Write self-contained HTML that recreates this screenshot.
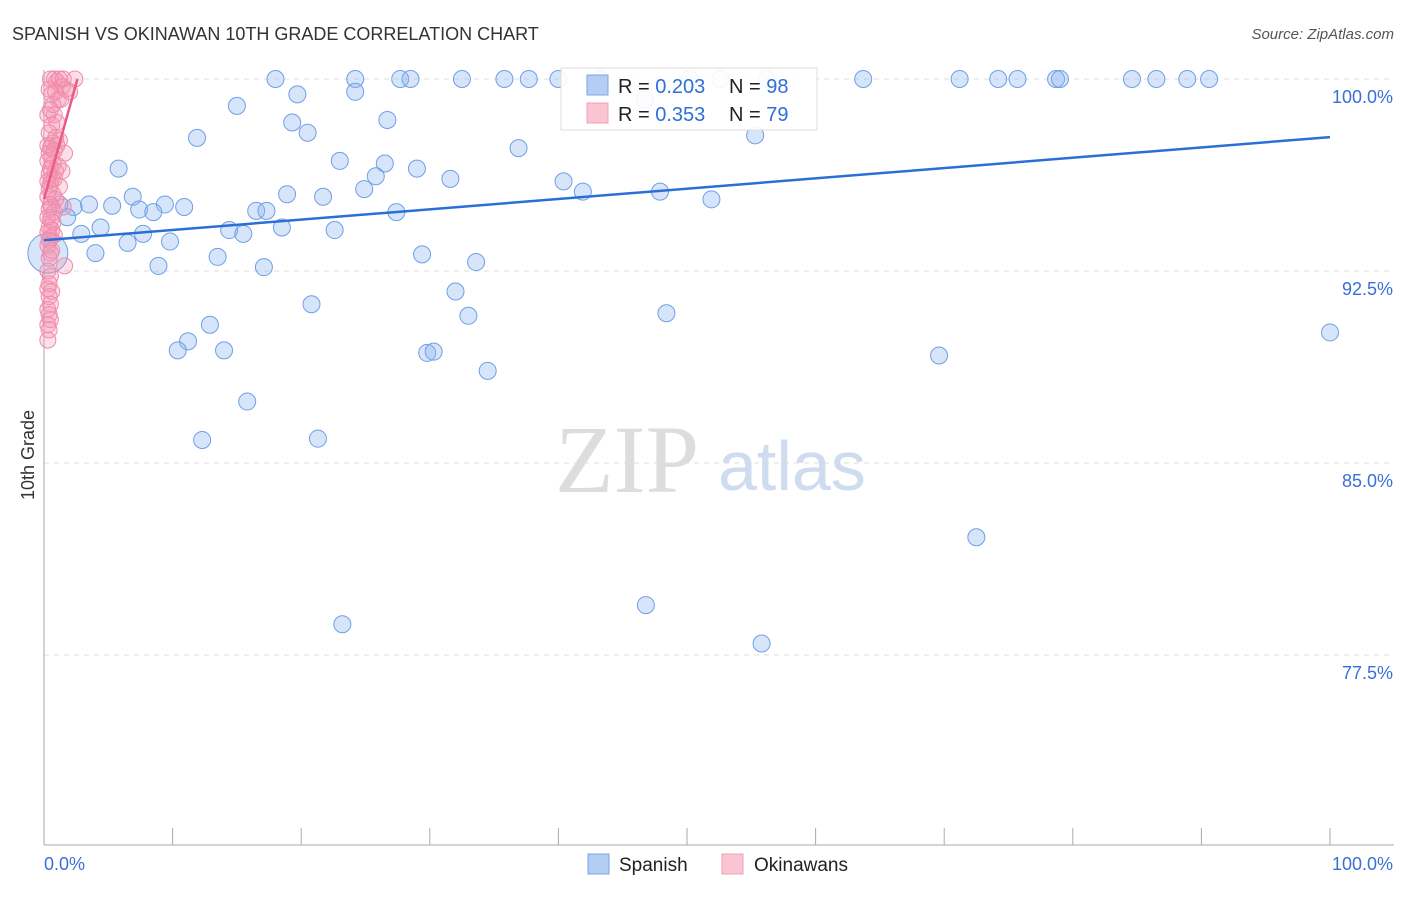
<!DOCTYPE html>
<html><head><meta charset="utf-8"><style>
body{margin:0;background:#fff;font-family:"Liberation Sans",sans-serif}
#wrap{position:relative;width:1406px;height:892px}
</style></head><body><div id="wrap">
<svg id="svg" width="1406" height="892" xmlns="http://www.w3.org/2000/svg">
<text x="12" y="40" font-size="18" fill="#333">SPANISH VS OKINAWAN 10TH GRADE CORRELATION CHART</text>
<text x="1394" y="39" font-size="15" fill="#555" text-anchor="end" font-style="italic">Source: ZipAtlas.com</text>
<text x="34" y="455" font-size="18" fill="#333" transform="rotate(-90 34 455)" text-anchor="middle">10th Grade</text>
<text x="555" y="492" font-size="96" fill="#ddd" font-family="Liberation Serif,serif">ZIP</text>
<text x="718" y="490" font-size="70" fill="#cfdcf0">atlas</text>
<g id="grid"></g><g id="pts"></g><g id="lines"></g>
</svg></div>
<script>
const yTicks=[100,92.5,85,77.5];
const yTickLabels=["100.0%","92.5%","85.0%","77.5%"];
const spanishX=[18,24.2,27.7,28.5,32.5,35.8,37.7,40,43.2,50.2,52.6,56.2,63.7,71.2,74.2,75.7,78.7,79,84.6,86.5,88.9,90.6,15,19.7,24.2,46.7,11.9,19.3,20.5,26.7,36.9,55.3,5.8,23,26.5,29,25.8,31.6,40.4,24.9,41.9,47.9,18.9,21.7,6.9,9.4,10.9,3.5,5.3,2.3,7.4,8.5,1.2,1.8,16.5,17.3,27.4,51.9,4.4,2.9,7.7,14.4,15.5,18.5,22.6,6.5,9.8,4,8.9,13.5,17.1,29.4,33.6,32,20.8,33,48.4,12.9,11.2,10.4,14,29.8,30.3,34.5,69.6,100,15.8,12.3,21.3,72.5,23.2,46.8,55.8,0.3];
const spanishY=[100,100,100,100,100,100,100,100,100,100,100,100,100,100,100,100,100,100,100,100,100,100,98.95,99.4,99.5,99.2,97.7,98.3,97.9,98.4,97.3,97.8,96.5,96.8,96.7,96.5,96.2,96.1,96,95.7,95.6,95.6,95.5,95.4,95.4,95.1,95,95.1,95.05,95,94.9,94.8,95.1,94.6,94.85,94.85,94.8,95.3,94.2,93.95,93.95,94.1,93.95,94.2,94.1,93.6,93.65,93.2,92.7,93.05,92.65,93.15,92.85,91.7,91.2,90.75,90.85,90.4,89.75,89.4,89.4,89.3,89.35,88.6,89.2,90.1,87.4,85.9,85.95,82.1,78.7,79.45,77.95,93.2];
const okiX=[0.5,0.8,1,1.2,1.4,1.5,1.7,2,2.4,0.4,0.6,0.9,1.1,0.7,1.3,0.5,0.3,0.8,1,0.6,0.4,0.9,1.2,0.7,0.3,0.5,1,0.4,0.6,0.8,1.6,0.3,0.7,1.1,0.5,0.9,0.4,1.4,0.6,0.3,0.8,0.5,1.2,0.4,0.7,0.3,0.9,0.5,0.6,0.4,0.8,0.3,0.5,0.7,1.5,0.4,0.6,0.3,0.8,0.5,0.4,0.3,0.6,0.5,0.4,1.6,0.3,0.5,0.4,0.3,0.6,0.4,0.5,0.3,0.4,0.5,0.3,0.4,0.3];
const okiY=[100,100,99.9,100,99.7,100,99.6,99.5,100,99.6,99.4,99.5,99.2,99,99.2,98.8,98.6,98.6,98.3,98.2,97.9,97.7,97.6,97.5,97.4,97.3,97.4,97.1,97,97.2,97.1,96.8,96.7,96.6,96.5,96.4,96.3,96.4,96.1,96,96.1,95.9,95.8,95.7,95.5,95.4,95.3,95.1,95,94.9,94.8,94.6,94.5,94.4,95,94.2,94.1,94,93.9,93.8,93.7,93.5,93.3,93.2,93,92.7,92.5,92.3,92,91.8,91.7,91.5,91.2,91,90.8,90.6,90.4,90.2,89.8];
const spanishTrend=[93.7,97.73];
const okiTrend=[95.3,100,2.6];
const NS="http://www.w3.org/2000/svg";
const xs=v=>44+v*12.86, ys=v=>79+(100-v)*25.6;
function mk(t,a,p){const e=document.createElementNS(NS,t);for(const k in a)e.setAttribute(k,a[k]);p.appendChild(e);return e;}
const grid=document.getElementById('grid'),pts=document.getElementById('pts'),lines=document.getElementById('lines'),svg=document.getElementById('svg');
yTicks.forEach((t,i)=>{
 const l=mk('line',{x1:44,x2:1394,y1:ys(t),y2:ys(t),stroke:'#ddd','stroke-dasharray':'5,5'},grid);
 
 
 const tx=mk('text',{x:1393,y:ys(t)+24,'font-size':18,fill:'#3a6fd8','text-anchor':'end'},grid);tx.textContent=yTickLabels[i];
 
 
});
const ax=mk('line',{x1:44,x2:1394,y1:845,y2:845,stroke:'#aaa'},grid);


const ay=mk('line',{x1:44,x2:44,y1:70,y2:845,stroke:'#aaa'},grid);


for(let i=0;i<=10;i++){const t=mk('line',{x1:xs(i*10),x2:xs(i*10),y1:828,y2:845,stroke:'#aaa'},grid);
 
 }
[['0.0%',44,'start'],['100.0%',1393,'end']].forEach(a=>{const t=mk('text',{x:a[1],y:870,'font-size':18,fill:'#3a6fd8','text-anchor':a[2]},grid);t.textContent=a[0];
 
 });
spanishX.forEach((x,i)=>{const c=mk('circle',{cx:xs(x),cy:ys(spanishY[i]),r:i==spanishX.length-1?20:8.5,fill:'rgba(140,180,240,0.35)',stroke:'#6f9fe6','stroke-width':1},pts);
 
 });
okiX.forEach((x,i)=>{const c=mk('circle',{cx:xs(x),cy:ys(okiY[i]),r:8,fill:'rgba(245,150,180,0.3)',stroke:'#f08cab','stroke-width':1},pts);
 
 });
const l1=mk('line',{x1:xs(0),y1:ys(spanishTrend[0]),x2:xs(100),y2:ys(spanishTrend[1]),stroke:'#2a6fd6','stroke-width':2.5},lines);


const l2=mk('line',{x1:xs(0),y1:ys(okiTrend[0]),x2:xs(okiTrend[2]),y2:ys(okiTrend[1]),stroke:'#ea5b86','stroke-width':2.5},lines);


// legend box
const g=mk('g',{},svg);
mk('rect',{x:561,y:68,width:256,height:62,fill:'rgba(255,255,255,0.9)',stroke:'#ddd'},g);
mk('rect',{x:587,y:75,width:21,height:20,fill:'#b3cdf5',stroke:'#7aa6e8'},g);
mk('rect',{x:587,y:103,width:21,height:20,fill:'#fac4d3',stroke:'#f0a0b8'},g);
[[93,'0.203','98'],[121,'0.353','79']].forEach(r=>{
 const t=mk('text',{x:618,y:r[0],'font-size':20,fill:'#222'},g);
 t.innerHTML='R = <tspan fill="#2f6fd8">'+r[1]+'</tspan><tspan x="729">N = </tspan><tspan fill="#2f6fd8">'+r[2]+'</tspan>';
});
// bottom legend
const bl=mk('g',{},svg);
mk('rect',{x:588,y:854,width:21,height:20,fill:'#b3cdf5',stroke:'#7aa6e8'},bl);
let t1=mk('text',{x:619,y:871,'font-size':19,fill:'#222'},bl);t1.textContent='Spanish';
mk('rect',{x:722,y:854,width:21,height:20,fill:'#fac4d3',stroke:'#f0a0b8'},bl);
let t2=mk('text',{x:754,y:871,'font-size':19,fill:'#222'},bl);t2.textContent='Okinawans';
</script></body></html>
